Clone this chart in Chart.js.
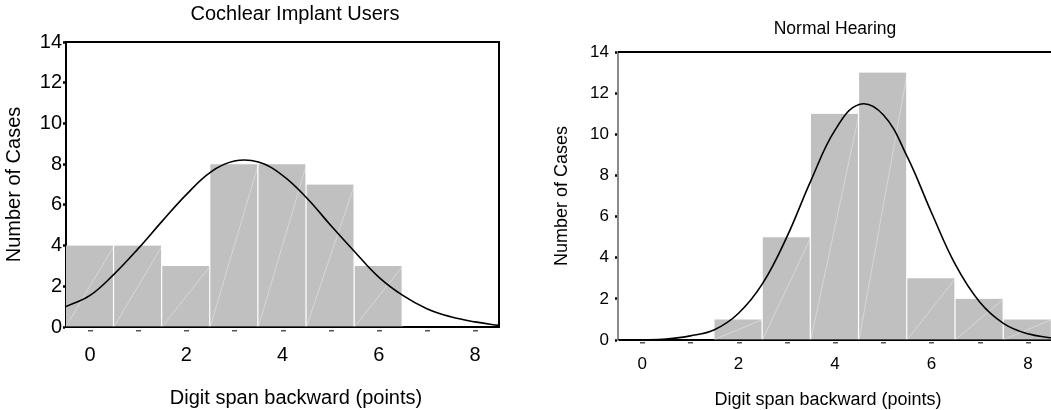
<!DOCTYPE html>
<html>
<head>
<meta charset="utf-8">
<script src="https://cdn.jsdelivr.net/npm/chart.js@4.4.0/dist/chart.umd.min.js"></script>
<style>
  html, body { margin: 0; padding: 0; background: #fff; overflow: hidden; width: 1051px; height: 410px; }
  canvas { position: absolute; top: 0; }
  #ciChart { left: 0; }
  #nhChart { left: 530px; }
</style>
</head>
<body>
<canvas id="ciChart" width="525" height="410"></canvas>
<canvas id="nhChart" width="523" height="410"></canvas>
<script>
// histogram bins (digit span backward, points)
const spanPoints = [0, 1, 2, 3, 4, 5, 6, 7, 8];
const ciCounts = [4, 4, 3, 8, 8, 7, 3, 0, 0];
const nhCounts = [0, 0, 1, 5, 11, 13, 3, 2, 1];

// fitted normal curves at half-point steps
const curveX = [-0.5, 0, 0.5, 1, 1.5, 2, 2.5, 3, 3.5, 4, 4.5, 5, 5.5, 6, 6.5, 7, 7.5, 8, 8.5];
const ciCurve = [1.0, 1.55, 2.6, 3.85, 5.2, 6.5, 7.6, 8.15, 8.1, 7.45, 6.35, 5.0, 3.7, 2.45, 1.55, 0.9, 0.5, 0.25, 0.08];
const nhCurve = [0, 0.01, 0.05, 0.2, 0.5, 1.3, 2.75, 5.0, 7.75, 10.2, 11.45, 10.95, 8.9, 6.2, 3.65, 1.85, 0.8, 0.3, 0.1];

const yTicks = [0, 2, 4, 6, 8, 10, 12, 14];
const xTicks = [0, 2, 4, 6, 8];

const FONT = 'Liberation Sans, Arial, sans-serif';

// titles, axis frame, little x dashes and the faint bar diagonals
const decor = {
  id: 'decor',
  afterDatasetDraw(chart, args) {
    if (args.meta.type !== 'bar') return;
    const ctx = chart.ctx;
    ctx.save();
    ctx.strokeStyle = 'rgba(255,255,255,0.35)';
    ctx.lineWidth = 1;
    args.meta.data.forEach(bar => {
      if (Math.abs(bar.base - bar.y) < 1) return;
      ctx.beginPath();
      ctx.moveTo(bar.x - bar.width / 2, bar.base);
      ctx.lineTo(bar.x + bar.width / 2, bar.y);
      ctx.stroke();
    });
    ctx.restore();
  },
  afterDraw(chart, args, opts) {
    const ctx = chart.ctx;
    const { left, right, top, bottom } = chart.chartArea;
    const xs = chart.scales.x;
    ctx.save();
    // frame
    ctx.strokeStyle = '#000';
    ctx.lineWidth = 2;
    ctx.beginPath();
    ctx.moveTo(left, top);
    ctx.lineTo(right, top);
    if (opts.boxRight) ctx.lineTo(right, bottom);
    ctx.stroke();
    // dashes under each bin
    ctx.fillStyle = '#555';
    spanPoints.forEach(v => {
      const px = xs.getPixelForValue(v);
      ctx.fillRect(Math.round(px) - 2, bottom + opts.dashGap, 5, 1.5);
    });
    // texts
    ctx.fillStyle = '#000';
    ctx.textAlign = 'center';
    ctx.textBaseline = 'alphabetic';
    opts.texts.forEach(t => {
      ctx.font = t.size + 'px ' + FONT;
      ctx.fillText(t.text, t.x, t.y);
    });
    ctx.restore();
  }
};

function makeChart(id, counts, curve, s) {
  return new Chart(document.getElementById(id), {
    type: 'bar',
    data: {
      datasets: [
        {
          type: 'line',
          data: curveX.map((x, i) => ({ x, y: curve[i] })),
          borderColor: '#000',
          borderWidth: 1.6,
          pointRadius: 0,
          tension: 0.4,
          fill: false
        },
        {
          data: spanPoints.map((x, i) => ({ x, y: counts[i] })),
          backgroundColor: '#c0c0c0',
          borderColor: '#fff',
          borderWidth: { left: 0, right: 1.5, top: 0, bottom: 0 },
          borderSkipped: false,
          barPercentage: 1,
          categoryPercentage: 1
        }
      ]
    },
    options: {
      responsive: false,
      animation: false,
      events: [],
      layout: { padding: { top: s.top, right: s.padRight, left: 0, bottom: 0 } },
      plugins: {
        legend: { display: false },
        tooltip: { enabled: false },
        decor: { boxRight: s.boxRight, dashGap: s.dashGap, texts: s.texts }
      },
      scales: {
        x: {
          type: 'linear',
          min: -0.5,
          max: 8.5,
          offset: false,
          afterBuildTicks: sc => { sc.ticks = xTicks.map(v => ({ value: v })); },
          afterFit: sc => { sc.height = s.xHeight; },
          grid: { display: false, offset: false },
          border: { display: true, color: '#000', width: 2 },
          ticks: { color: '#000', padding: s.xPad, maxRotation: 0, autoSkip: false, font: { family: FONT, size: s.tickSize } }
        },
        y: {
          min: 0,
          max: 14,
          afterBuildTicks: sc => { sc.ticks = yTicks.map(v => ({ value: v })); },
          afterFit: sc => { sc.width = s.yWidth; },
          grid: { drawOnChartArea: false, drawTicks: true, tickLength: 3, tickWidth: 2.5, tickColor: '#000' },
          border: { display: true, color: s.yAxisColor, width: 2 },
          ticks: { color: '#000', padding: s.yPad, font: { family: FONT, size: s.tickSize } },
          title: { display: true, text: 'Number of Cases', color: '#000', padding: { top: s.yTitlePad, bottom: 0 }, font: { family: FONT, size: s.yTitleSize } }
        }
      }
    },
    plugins: [decor]
  });
}

makeChart('ciChart', ciCounts, ciCurve, {
  top: 42, padRight: 26, xHeight: 83, yWidth: 66,
  tickSize: 20, xPad: 8, yPad: 1, yAxisColor: '#000',
  yTitleSize: 20, yTitlePad: 2, boxRight: true, dashGap: 3,
  texts: [
    { text: 'Cochlear Implant Users', x: 295, y: 20, size: 20 },
    { text: 'Digit span backward (points)', x: 296, y: 404, size: 20 }
  ]
});

makeChart('nhChart', nhCounts, nhCurve, {
  top: 52, padRight: 1, xHeight: 70, yWidth: 88,
  tickSize: 17, xPad: 6, yPad: 6, yAxisColor: '#8a8a8a',
  yTitleSize: 18, yTitlePad: 21, boxRight: false, dashGap: 2,
  texts: [
    { text: 'Normal Hearing', x: 305, y: 34, size: 17.5 },
    { text: 'Digit span backward (points)', x: 298, y: 405, size: 18 }
  ]
});
</script>
</body>
</html>
